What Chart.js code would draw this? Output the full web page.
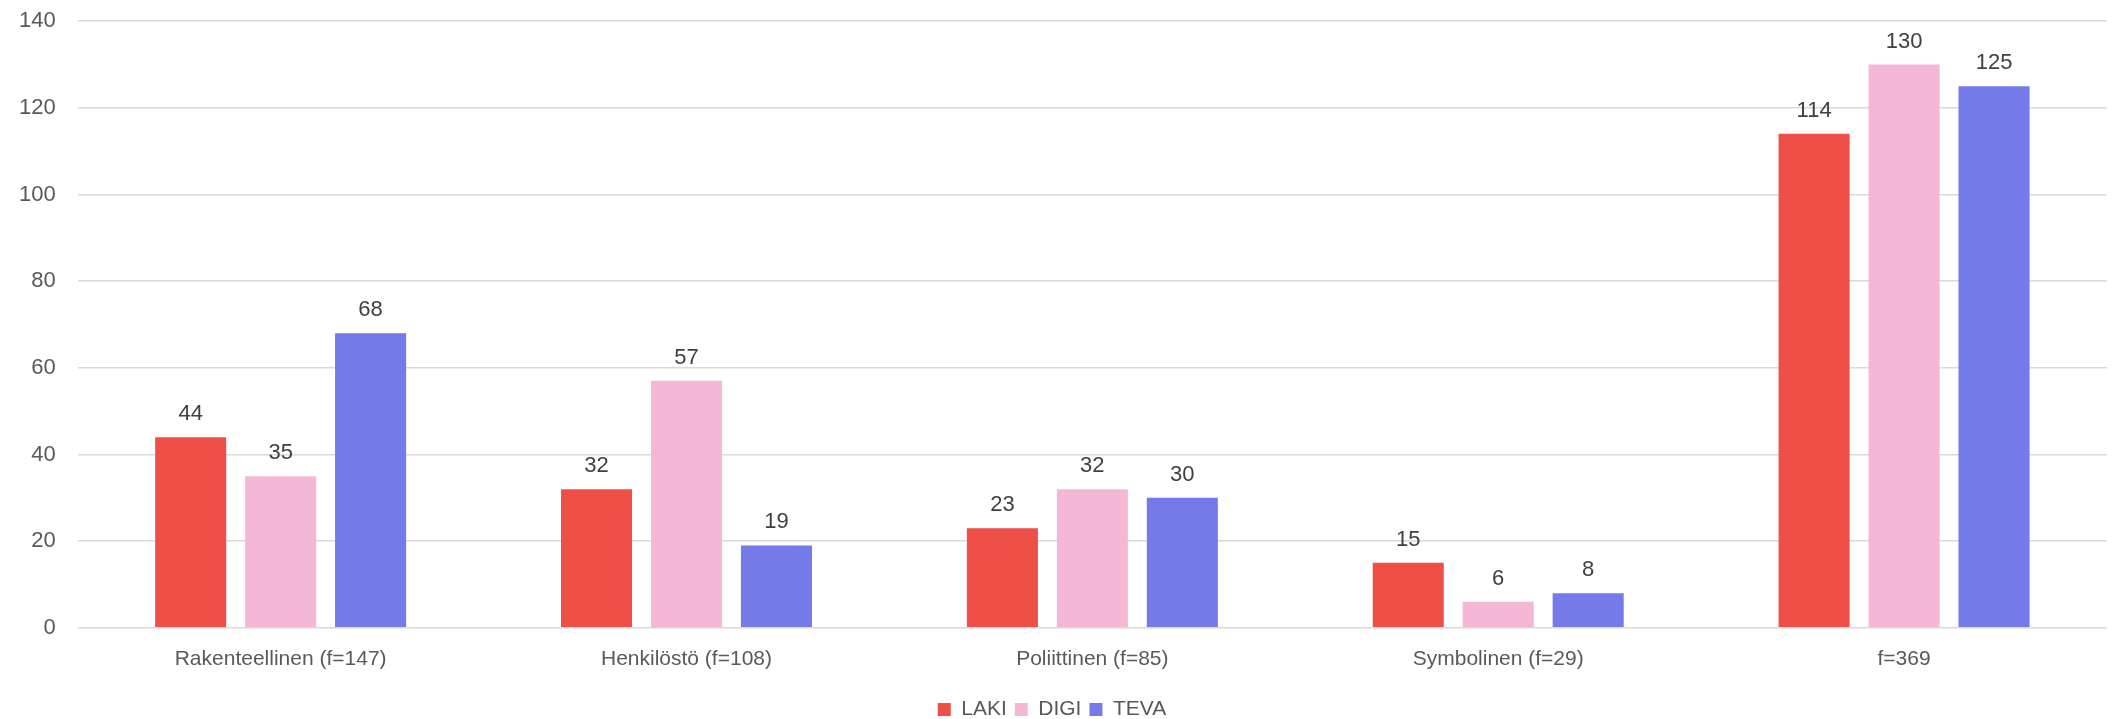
<!DOCTYPE html>
<html>
<head>
<meta charset="utf-8">
<script src="https://cdn.jsdelivr.net/npm/chart.js@4.4.1/dist/chart.umd.min.js"></script>
<style>
  html, body { margin: 0; padding: 0; background: #fff; overflow: hidden; }
  #frame { width: 2116px; height: 719px; overflow: hidden; position: relative; }
  #wrap { position: absolute; left: 0; top: -14px; width: 2116px; height: 740px; }
</style>
</head>
<body>
<div id="frame"><div id="wrap"><canvas id="chart"></canvas></div></div>
<script>
const categories = ["Rakenteellinen (f=147)", "Henkilöstö (f=108)", "Poliittinen (f=85)", "Symbolinen (f=29)", "f=369"];
const laki = [44, 32, 23, 15, 114];
const digi = [35, 57, 32, 6, 130];
const teva = [68, 19, 30, 8, 125];
const yTicks = [0, 20, 40, 60, 80, 100, 120, 140];

const FONT = "'Liberation Sans', Arial, sans-serif";

// Arvot pylväiden yläpuolelle
const valueLabels = {
    id: "valueLabels",
    afterDatasetsDraw(chart) {
        const ctx = chart.ctx;
        ctx.save();
        ctx.font = "22px " + FONT;
        ctx.fillStyle = "#404040";
        ctx.textAlign = "center";
        ctx.textBaseline = "alphabetic";
        chart.data.datasets.forEach((ds, i) => {
            chart.getDatasetMeta(i).data.forEach((bar, j) => {
                ctx.fillText(ds.data[j], bar.x, bar.y - 17);
            });
        });
        ctx.restore();
    },
};

new Chart(document.getElementById("chart").getContext("2d"), {
    type: "bar",
    data: {
        labels: categories,
        datasets: [
            { label: "LAKI", data: laki, backgroundColor: "#EE5047" },
            { label: "DIGI", data: digi, backgroundColor: "#F4B8D6" },
            { label: "TEVA", data: teva, backgroundColor: "#747AE8" },
        ],
    },
    options: {
        responsive: true,
        maintainAspectRatio: false,
        animation: false,
        layout: { padding: { left: -3, right: 9, top: 0, bottom: -4 } },
        datasets: {
            bar: { categoryPercentage: 0.665, barPercentage: 0.79 },
        },
        plugins: {
            legend: {
                position: "bottom",
                labels: {
                    boxWidth: 13,
                    boxHeight: 13,
                    padding: 8,
                    color: "#595959",
                    font: { family: FONT, size: 21 },
                },
            },
            tooltip: { enabled: false },
        },
        scales: {
            x: {
                grid: { display: false, drawTicks: false },
                border: { display: false },
                ticks: { color: "#595959", padding: 19, font: { family: FONT, size: 21 } },
            },
            y: {
                min: 0,
                max: 140,
                afterBuildTicks: (axis) => { axis.ticks = yTicks.map((v) => ({ value: v })); },
                grid: { color: "#d9d9d9", lineWidth: 1.5, drawTicks: false },
                border: { display: false },
                ticks: { color: "#595959", padding: 22, font: { family: FONT, size: 22 } },
            },
        },
    },
    plugins: [valueLabels],
});
</script>
</body>
</html>
